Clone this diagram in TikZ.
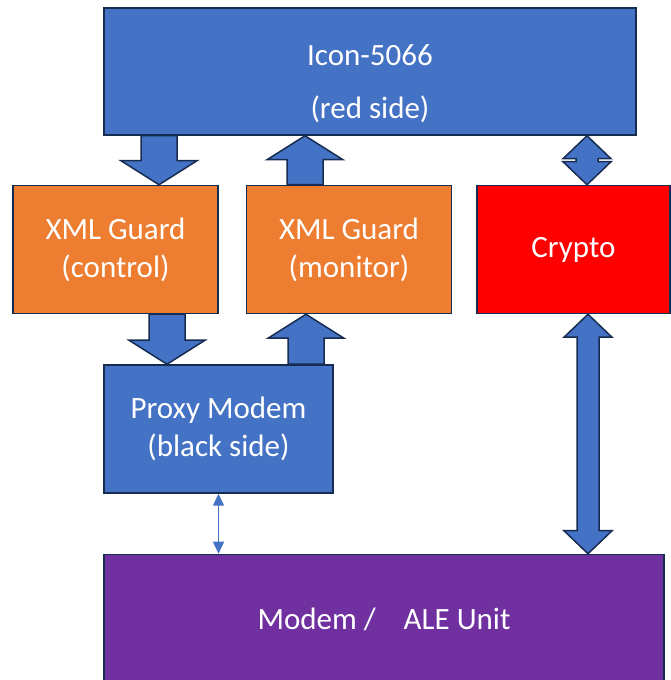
\documentclass[tikz,border=0pt]{standalone}
\usepackage{fontspec}
\setmainfont{Carlito}
\usetikzlibrary{positioning,calc,arrows.meta}

\definecolor{boxblue}{HTML}{4472C4}
\definecolor{boxorange}{HTML}{ED7D31}
\definecolor{boxred}{HTML}{FF0000}
\definecolor{boxpurple}{HTML}{7030A0}
\definecolor{edgenavy}{HTML}{172C51}

% block arrow, vertical at the x of #1, from #1 to #2
\newcommand{\blockarrow}[2]{%
  \draw[blockarr] let \p1=(#1), \p2=(#2), \n1={sign(\y2-\y1)} in
    (\x1-18pt,\y1) -- (\x1-18pt,\y2-\n1*24pt) -- (\x1-38pt,\y2-\n1*24pt) -- (\x1,\y2)
    -- (\x1+38pt,\y2-\n1*24pt) -- (\x1+18pt,\y2-\n1*24pt) -- (\x1+18pt,\y1) -- cycle;}
% double block arrow
\newcommand{\dblockarrow}[2]{%
  \draw[blockarr] let \p1=(#1), \p2=(#2), \n1={sign(\y2-\y1)} in
    (\x1,\y1) -- (\x1+24pt,\y1+\n1*23pt) -- (\x1+11pt,\y1+\n1*23pt) -- (\x1+11pt,\y2-\n1*23pt)
    -- (\x1+24pt,\y2-\n1*23pt) -- (\x1,\y2) -- (\x1-24pt,\y2-\n1*23pt) -- (\x1-11pt,\y2-\n1*23pt)
    -- (\x1-11pt,\y1+\n1*23pt) -- (\x1-24pt,\y1+\n1*23pt) -- cycle;}

\begin{document}
\begin{tikzpicture}[x=1pt, y=1pt]
    % Define styles
    \tikzstyle{unit}=[rectangle, draw=edgenavy, line width=1.5pt, text=white, align=center, font=\fontsize{31}{38}\selectfont]
    \tikzstyle{bluebox}=[unit, fill=boxblue]
    \tikzstyle{guard}=[unit, fill=boxorange, minimum width=205pt, minimum height=128pt]
    \tikzstyle{blockarr}=[fill=boxblue, draw=edgenavy, line width=1.5pt, line join=miter]
    \tikzstyle{thinarrow}=[{Triangle[length=12pt,width=11pt]}-{Triangle[length=12pt,width=11pt]}, draw=boxblue, line width=1.5pt]

    \useasboundingbox (0,0) rectangle (670,680);

    % Red side
    \node[bluebox, minimum width=532pt, minimum height=127pt] (icon) at (370,608.5) {\rule{0pt}{46pt}Icon-5066\\[15pt](red side)};

    % Guards and crypto
    \node[guard] (ctrl) [below=49pt of icon, xshift=-254.5pt] {XML Guard\\(control)};
    \node[guard] (mon) [right=27pt of ctrl] {XML Guard\\(monitor)};
    \node[unit, fill=boxred, minimum width=193pt, minimum height=128pt] (crypto) [right=24pt of mon] {Crypto};

    % Black side
    \node[bluebox, minimum width=229pt, minimum height=128pt] (proxy) [below=50pt of ctrl, xshift=103pt] {Proxy Modem\\(black side)};
    \node[unit, fill=boxpurple, minimum width=560pt, minimum height=130pt] (modem) [below=60pt of proxy, xshift=165.5pt] {Modem /\hspace{0.9em}ALE Unit};

    % Connections
    \blockarrow{[xshift=-211pt]icon.south}{ctrl.north}
    \blockarrow{[xshift=-44pt]mon.north}{icon.south}
    \dblockarrow{[xshift=13.5pt]crypto.north}{icon.south}
    \blockarrow{[xshift=51.5pt]ctrl.south}{proxy.north}
    \blockarrow{[xshift=87.5pt]proxy.north}{mon.south}
    \dblockarrow{[xshift=14.5pt]crypto.south}{modem.north}
    \draw[thinarrow] (proxy.south) -- (proxy.south |- modem.north);
\end{tikzpicture}
\end{document}
